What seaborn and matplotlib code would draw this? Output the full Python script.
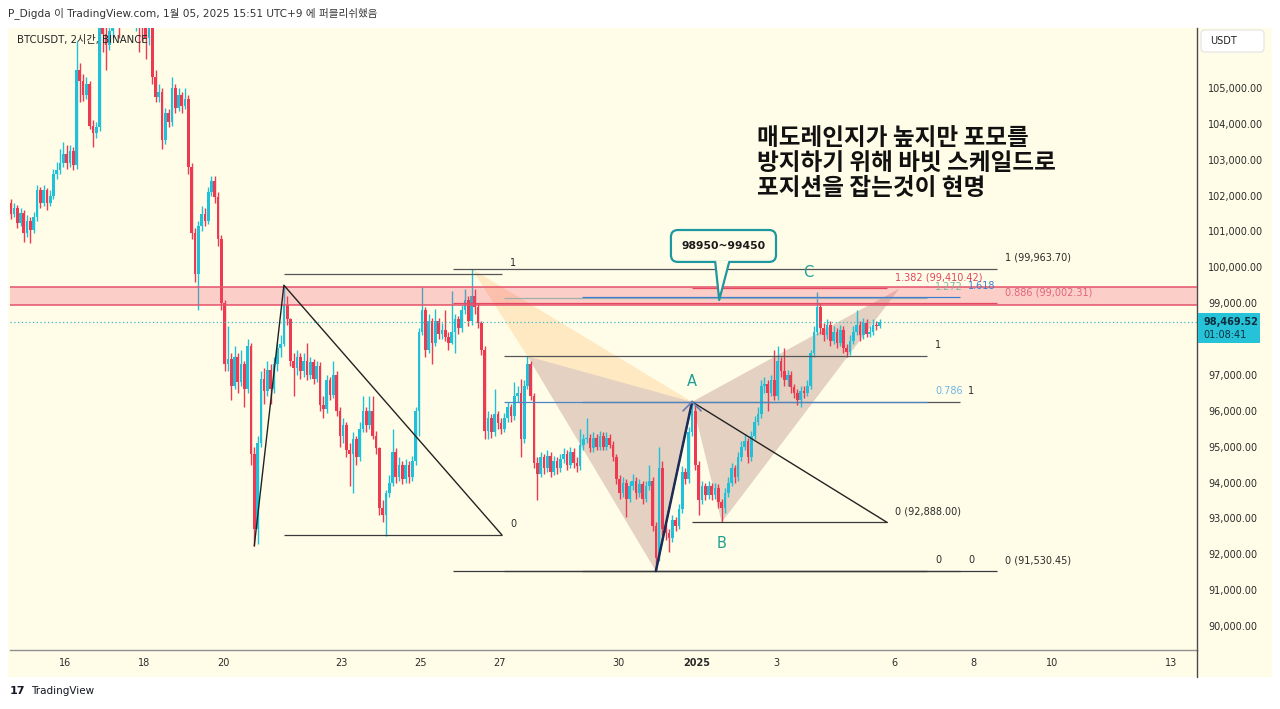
import numpy as np
import pandas as pd
import matplotlib
matplotlib.use("Agg")
import matplotlib.pyplot as plt
import matplotlib.patches as mpatches
import matplotlib.transforms as mtrans
from matplotlib.lines import Line2D
import seaborn as sns

sns.set_style("white")
plt.rcParams["font.family"] = ["DejaVu Sans", "Noto Sans CJK KR"]

# ---------------- data (BTCUSDT 2h candles) ----------------
candle_start = "2024-12-14 15:00"
first_open = 101800
closes = [
    101500, 101650, 101240, 101520, 100960, 101300, 101050, 101400, 102150, 101800, 102150, 101800,
    102000, 102600, 102700, 102900, 103150, 102900, 103250, 102850, 105500, 105200, 104800, 105100,
    103950, 103750, 103900, 106900, 106500, 106200, 106600, 107000, 107300, 106900, 107300, 107600,
    107800, 107400, 107900, 107200, 106800, 106400, 106700, 105300, 104750, 104900, 103550, 104300,
    104050, 105000, 104450, 104800, 104500, 104700, 102800, 100950, 99800, 101150, 101500, 101300,
    102100, 102400, 101950, 100800, 99000, 97300, 97450, 96700, 97500, 96800, 97300, 96600,
    97800, 94800, 92700, 95100, 96900, 96550, 97150, 96600, 97300, 97750, 97850, 98950,
    98550, 97400, 97200, 97500, 97100, 97400, 97000, 97350, 96900, 97250, 96150, 96050,
    96850, 96450, 97000, 96000, 95300, 95600, 94900, 94800, 95200, 94700, 95500, 96000,
    95600, 96000, 95300, 94950, 93300, 93100, 93700, 94000, 94850, 94150, 94500, 94100,
    94500, 94150, 94600, 96000, 98200, 98800, 97700, 98500, 97900, 98500, 98150, 98250,
    98050, 97900, 98200, 98550, 98300, 98800, 99100, 98500, 99200, 98900, 98450, 97700,
    95450, 95800, 95400, 95900, 95650, 95500, 95800, 96100, 95850, 96400, 96500, 95200,
    96700, 97300, 96400, 94550, 94250, 94700, 94400, 94750, 94300, 94600, 94400, 94650,
    94800, 94500, 94850, 94550, 94450, 95050, 95200, 95250, 94950, 95250, 95000, 95300,
    95000, 95250, 95050, 94700, 94100, 93700, 94000, 93550, 93900, 94050, 93700, 93950,
    93550, 93900, 94050, 92800, 91900, 94400, 92700, 92600, 92450, 92950, 92800, 93250,
    94300, 94100, 95400, 96000, 94500, 93500, 93900, 93650, 93900, 93650, 93850, 93450,
    93300, 93700, 94000, 94400, 94150, 94700, 95000, 95150, 94700, 95300, 95700, 95900,
    96700, 96750, 96500, 96850, 96400, 97400, 97100, 96850, 97000, 96650, 96500, 96300,
    96550, 96500, 96700, 97600, 98200, 98900, 98300, 98100, 98400, 97950, 98200, 97900,
    98250, 97750, 97650, 97950, 98200, 98400, 98100, 98450, 98150, 98200, 98400, 98350,
    98470,
]
highs = [
    101900, 101800, 101750, 101650, 101600, 101450, 101400, 101550, 102300, 102250, 102300, 102200,
    102150, 102750, 102950, 103300, 103500, 103400, 103400, 103350, 106300, 105700, 105400, 105300,
    105200, 104100, 104050, 107100, 107200, 106800, 106900, 107300, 107600, 107500, 107500, 107900,
    108100, 108000, 108350, 108000, 107400, 107000, 107000, 106900, 105500, 105100, 105000, 104450,
    104400, 105300, 105100, 105000, 104900, 105000, 104800, 102900, 101100, 101300, 101700, 101650,
    102250, 102550, 102550, 102100, 100900, 99100, 98350, 97600, 97800, 97600, 97700, 97400,
    98000, 97900, 95000, 95300, 97100, 97200, 97400, 97300, 97500, 97900, 98100, 99500,
    99200, 98600, 97600, 97700, 97600, 97600, 97900, 97500, 97450, 97400, 97350, 96400,
    97000, 96950, 97400, 97100, 96100, 95800, 95700, 95100, 95400, 95300, 95700, 96400,
    96100, 96400, 96400, 95450, 95000, 93500, 93800, 94200, 95500, 94950, 94700, 94600,
    94650, 94600, 94750, 96100, 98300, 99450, 98900, 98700, 98600, 98850, 98600, 98450,
    98800, 98200, 99350, 98700, 98650, 98950, 99400, 99200, 99964, 99400, 99000, 98500,
    97800, 96000, 95900, 96600, 96000, 95800, 95950, 96250, 96200, 96800, 96700, 96900,
    96850, 97520, 97400, 96500, 94700, 94850, 94800, 94900, 94850, 94750, 94700, 94800,
    94950, 94900, 95000, 94950, 94700, 95500, 95350, 95800, 95350, 95400, 95350, 95450,
    95400, 95400, 95350, 95150, 94800, 94200, 94150, 94100, 94050, 94250, 94150, 94100,
    94050, 94050, 94500, 94150, 92900, 95000, 94600, 92850, 92700, 93100, 93050, 93400,
    94450, 94400, 95550, 96250, 96150, 94600, 94050, 94000, 94050, 94000, 94000, 93950,
    93550, 93850, 94150, 94550, 94500, 94850, 95150, 95350, 95250, 95450, 95850, 96100,
    96850, 96950, 96850, 97000, 97700, 97800, 97500, 97750, 97150, 97100, 96750, 96600,
    96700, 96700, 96850, 97700, 98350, 99300, 99000, 98450, 98550, 98500, 98350, 98300,
    98400, 98350, 97850, 98100, 98350, 98800, 98500, 98600, 98550, 98350, 98550, 98500,
    98550,
]
lows = [
    101350, 101400, 101100, 101150, 100700, 100850, 100680, 100950, 101300, 101650, 101700, 101600,
    101700, 101900, 102450, 102600, 102800, 102750, 102800, 102700, 102750, 104600, 104650, 104700,
    103850, 103350, 103600, 103800, 106000, 105500, 106050, 106400, 106800, 106400, 106800, 107100,
    107400, 107200, 106600, 106000, 106300, 105800, 106200, 105100, 104600, 104600, 103300, 103450,
    103900, 103950, 104300, 104350, 104300, 104400, 102600, 100800, 99600, 98800, 101000, 101150,
    101200, 102000, 101800, 100600, 98800, 97100, 97100, 96300, 96600, 96500, 96700, 96100,
    96500, 94500, 92230, 92300, 95000, 96200, 96400, 96200, 96500, 97100, 97500, 97800,
    98400, 97250, 96400, 97000, 96900, 96950, 96850, 96900, 96750, 96800, 96000, 95800,
    95950, 96300, 96350, 95850, 95000, 95100, 94700, 93900, 93700, 94500, 94600, 95400,
    95400, 95500, 95200, 94800, 93100, 92900, 92520, 93600, 93900, 94000, 94050, 93950,
    94000, 94000, 94050, 94500, 95300, 98100, 97500, 97600, 97300, 97800, 98000, 98000,
    97950, 97700, 97850, 97600, 98150, 98200, 98700, 98350, 98400, 98700, 98300, 97550,
    95200, 95200, 95250, 95300, 95500, 95350, 95400, 95700, 95700, 95750, 96250, 94700,
    95100, 96600, 96300, 94400, 93500, 94150, 94250, 94300, 94150, 94200, 94250, 94300,
    94550, 94350, 94400, 94400, 94300, 94350, 94900, 95100, 94850, 94850, 94900, 94900,
    94900, 94900, 94950, 94600, 93950, 93550, 93600, 93050, 93450, 93800, 93550, 93600,
    93400, 93450, 93800, 92650, 91530, 91800, 92550, 92400, 92050, 92350, 92650, 92700,
    93150, 93950, 94000, 95300, 94350, 93100, 93400, 93500, 93550, 93500, 93550, 93300,
    92888, 93150, 93600, 93900, 94000, 94050, 94600, 94900, 94550, 94600, 95200, 95600,
    95800, 96500, 96000, 96400, 96300, 96300, 96950, 96700, 96700, 96500, 96350, 96150,
    96100, 96350, 96400, 96600, 97500, 98100, 98150, 97950, 98000, 97800, 97850, 97750,
    97800, 97600, 97500, 97550, 97850, 98100, 97950, 98000, 98050, 98050, 98100, 98250,
    98300,
]
current_price = 98469.52
countdown = "01:08:41"

price_ticks = [90000, 91000, 92000, 93000, 94000, 95000, 96000, 97000,
               99000, 100000, 101000, 102000, 103000, 104000, 105000]
time_ticks = ["2024-12-16", "2024-12-18", "2024-12-20", "2024-12-23", "2024-12-25",
              "2024-12-27", "2024-12-30", "2025-01-01", "2025-01-03", "2025-01-06",
              "2025-01-08", "2025-01-10", "2025-01-13"]
time_labels = ["16", "18", "20", "23", "25", "27", "30", "2025", "3", "6", "8", "10", "13"]

zone_low, zone_high = 98950, 99450
zone_text = "98950~99450"
callout_box = {"left": "2024-12-31 08:10", "right": "2025-01-03 00:00", "top": 101040, "bottom": 100150}
callout_tip = ("2025-01-01 13:30", 99090)

fib_long = {"start": "2024-12-25 20:00", "end": "2025-01-08 14:00", "p0": 91530.45, "p1": 99963.70,
            "levels": [0, 0.886, 1], "with_price": True}
fib_a = {"start": "2024-12-27 03:00", "end": "2025-01-06 20:00", "p0": 91530.45, "p1": 97520,
         "levels": [0, 1, 1.272, 0.786], "with_price": False}
fib_b = {"start": "2024-12-29 02:00", "end": "2025-01-07 16:00", "p0": 91530.45, "p1": 96250,
         "levels": [0, 1, 1.618], "with_price": False}
ext_1 = {"points": [("2024-12-20 19:00", 92230), ("2024-12-21 13:00", 99500), ("2024-12-27 01:30", 92537)],
         "levels": [0, 1], "with_price": False}
ext_2 = {"points": [("2024-12-30 23:00", 91530.45), ("2024-12-31 21:00", 96250), ("2025-01-05 19:30", 92888)],
         "levels": [0, 1.382], "with_price": True}

harm_light = [[("2024-12-26 07:00", 99963.70), ("2024-12-27 17:00", 97520), ("2024-12-31 21:00", 96250)]]
harm_dark = [[("2024-12-27 17:00", 97520), ("2024-12-30 23:00", 91530.45), ("2024-12-31 21:00", 96250)],
             [("2024-12-31 21:00", 96250), ("2025-01-01 15:00", 92888), ("2025-01-06 03:00", 99410)]]
point_labels = [("A", "2024-12-31 21:00", 96250, 20), ("B", "2025-01-01 15:00", 92888, -21),
                ("C", "2025-01-03 19:30", 99869, 0)]

header = "P_Digda 이 TradingView.com, 1월 05, 2025 15:51 UTC+9 에 퍼블리쉬했음"
symbol = "BTCUSDT, 2시간, BINANCE"
note_lines = ["매도레인지가 높지만 포모를", "방지하기 위해 바빗 스케일드로", "포지션을 잡는것이 현명"]

# ---------------- styling ----------------
BG = "#FFFDE8"
UP, DN = "#20C1D8", "#EE3A50"
TEAL = "#1FA093"
LINE_C = {0: "#3a3a3a", 1: "#555555", 0.786: "#4C84C8", 1.272: "#9DB0AA", 1.618: "#3F7FCC",
          0.886: "#E6485F", 1.382: "#E6485F"}
TEXT_C = {0: "#2a2a2a", 1: "#2a2a2a", 0.786: "#6DB6E6", 1.272: "#86B3A4", 1.618: "#3F7FCC",
          0.886: "#E0667A", 1.382: "#E0475C"}
LINE_Z = {0.786: 5.6, 1.618: 5.6}

W, H = 1280, 709
REF = pd.Timestamp("2024-12-16")


def tday(ts):
    return (pd.Timestamp(ts) - REF) / pd.Timedelta(days=1)


fig = plt.figure(figsize=(W / 100, H / 100), dpi=100)
fig.patch.set_facecolor("white")
PIX = mtrans.Affine2D().scale(1 / W, 1 / H) + fig.transFigure  # pixel coords, origin bottom-left
IDT = mtrans.IdentityTransform()

fig.add_artist(mpatches.Rectangle((8, H - 677), 1264, 649, transform=PIX, facecolor=BG,
                                  edgecolor="none", zorder=-10))
ax = fig.add_axes([10 / W, 1 - 650 / H, 1187 / W, 622 / H])
ax.set_facecolor(BG)
ax.set_xlim(-1.392, 28.658)
ax.set_ylim(89331, 106672)


def to_pix(tt, p):
    x, y = ax.transData.transform((tt, p))
    return x, y


# ---- candles ----
times = pd.date_range(candle_start, periods=len(closes), freq="2h")
t = np.array([(x - REF) / pd.Timedelta(days=1) for x in times])
c = np.array(closes, float)
o = np.r_[first_open, c[:-1]]
hi = np.maximum(np.array(highs, float), np.maximum(o, c))
lo = np.minimum(np.array(lows, float), np.minimum(o, c))
col = np.where(c >= o, UP, DN)
ax.vlines(t, lo, hi, colors=col, lw=1.0, zorder=2)
ax.bar(t, np.maximum(np.abs(c - o), 35), bottom=np.minimum(o, c), width=0.068, color=col,
       linewidth=0, zorder=3)

# ---- harmonic shading ----
for tri in harm_light:
    ax.fill([tday(a) for a, _ in tri], [b for _, b in tri], color="#FFA53C", alpha=0.22, lw=0, zorder=1)
for tri in harm_dark:
    ax.fill([tday(a) for a, _ in tri], [b for _, b in tri], color="#96504F", alpha=0.25, lw=0, zorder=1)

# ---- zone ----
ax.axhspan(zone_low, zone_high, facecolor="#F04A6E", alpha=0.26, lw=0, zorder=4)
ax.axhline(zone_low, color="#E4536B", lw=1.1, zorder=4.5)
ax.axhline(zone_high, color="#E4536B", lw=1.1, zorder=4.5)

# ---- current price line ----
ax.axhline(current_price, color="#3FB8C8", lw=0.9, ls=(0, (1, 2)), zorder=4)


def draw_levels(t0, t1, pairs, with_price):
    for lvl, price in pairs:
        ax.hlines(price, t0, t1, colors=LINE_C[lvl], lw=0.9, zorder=LINE_Z.get(lvl, 5))
        lab = f"{lvl:g} ({price:,.2f})" if with_price else f"{lvl:g}"
        ax.annotate(lab, (t1, price), xytext=(8, 11), textcoords="offset pixels", ha="left",
                    va="center", fontsize=7, color=TEXT_C[lvl], zorder=7, annotation_clip=False)


for fb in (fib_long, fib_a, fib_b):
    pairs = [(l, fb["p0"] + l * (fb["p1"] - fb["p0"])) for l in fb["levels"]]
    draw_levels(tday(fb["start"]), tday(fb["end"]), pairs, fb["with_price"])

for ex in (ext_1, ext_2):
    (ta, pa), (tb, pb), (tc, pc) = ex["points"]
    pairs = [(l, pc + l * (pb - pa)) for l in ex["levels"]]
    draw_levels(tday(tb), tday(tc), pairs, ex["with_price"])
    df = pd.DataFrame({"t": [tday(ta), tday(tb), tday(tc)], "p": [pa, pb, pc]})
    sns.lineplot(data=df, x="t", y="p", sort=False, estimator=None, color="#222222", lw=1.0,
                 ax=ax, zorder=6)

# thick first leg of second extension
(ta, pa), (tb, pb), _ = ext_2["points"]
sns.lineplot(x=[tday(ta), tday(tb)], y=[pa, pb], sort=False, estimator=None, color="#1C2B57",
             lw=1.8, ax=ax, zorder=6.5)
ax.set_xlabel("")
ax.set_ylabel("")

# caret at A
ax_, ay_ = to_pix(tday(ext_2["points"][1][0]), ext_2["points"][1][1])
for dx in (-9, 9):
    fig.add_artist(Line2D([ax_ + dx, ax_], [ay_ - 9, ay_], transform=IDT,
                          color="#6A80B4", lw=1.3, zorder=5))

# point labels
for s, ts, p, dy in point_labels:
    ax.annotate(s, (tday(ts), p), xytext=(0, dy), textcoords="offset pixels", ha="center",
                va="center", fontsize=10.5, color=TEAL, zorder=8)

# ---- callout ----
xl, yb = to_pix(tday(callout_box["left"]), callout_box["bottom"])
xr, yt = to_pix(tday(callout_box["right"]), callout_box["top"])
tx, ty = to_pix(tday(callout_tip[0]), callout_tip[1])
box = mpatches.FancyBboxPatch((xl, yb), xr - xl, yt - yb, boxstyle="round,pad=0,rounding_size=7",
                              transform=IDT, facecolor=BG, edgecolor="#1E97A0", lw=1.6, zorder=20)
fig.add_artist(box)
b1, b2 = tx - 4, tx + 10
fig.add_artist(mpatches.Polygon([(b1, yb + 1.5), (tx, ty), (b2, yb + 1.5)], closed=True, transform=IDT,
                                facecolor=BG, edgecolor="none", zorder=21))
fig.add_artist(Line2D([b1, tx, b2], [yb, ty, yb], transform=IDT, color="#1E97A0", lw=1.6, zorder=22))
fig.text((xl + xr) / 2, (yb + yt) / 2, zone_text, transform=IDT, ha="center", va="center",
         fontsize=7.8, weight="bold", color="#1a1a1a", zorder=23)

# ---- axes styling ----
for s in ("top", "left"):
    ax.spines[s].set_visible(False)
ax.spines["right"].set_color("#4a4a4a")
ax.spines["right"].set_linewidth(1.0)
ax.spines["bottom"].set_color("#8f8f8f")
ax.spines["bottom"].set_linewidth(1.0)
ax.yaxis.tick_right()
ax.set_yticks(price_ticks)
ax.set_yticklabels([f"{v:,.2f}" for v in price_ticks])
ax.tick_params(axis="y", length=0, pad=8, labelsize=7, labelcolor="#2b2b2b")
ax.set_xticks([tday(d) for d in time_ticks])
ax.set_xticklabels(time_labels)
ax.tick_params(axis="x", length=0, pad=6, labelsize=7, labelcolor="#2b2b2b")
for lab in ax.get_xticklabels():
    if lab.get_text() == "2025":
        lab.set_fontweight("bold")
ax.grid(False)

fig.add_artist(Line2D([1197, 1197], [H - 677, H - 650], transform=PIX, color="#4a4a4a", lw=1.0))

# current price tag
_, yc = to_pix(0, current_price)
fig.add_artist(mpatches.Rectangle((1198, yc - 21), 62, 30, transform=IDT, facecolor="#26C3D8",
                                  edgecolor="none", zorder=30))
fig.text(1203, yc, f"{current_price:,.2f}", transform=IDT, ha="left", va="center", fontsize=7,
         weight="bold", color="#0D2F3F", zorder=31)
fig.text(1203, yc - 13, countdown, transform=IDT, ha="left", va="center", fontsize=7,
         color="#0D2F3F", zorder=31)

# USDT tag
fig.add_artist(mpatches.FancyBboxPatch((1201, H - 52), 63, 22, boxstyle="round,pad=0,rounding_size=4",
                                       transform=PIX, facecolor="white", edgecolor="#E3E3E3", lw=0.8,
                                       zorder=30))
fig.text(1210, H - 41, "USDT", transform=PIX, ha="left", va="center", fontsize=7, color="#222222",
         zorder=31)

# ---- texts ----
cjk = ["Noto Sans CJK KR", "DejaVu Sans"]
fig.text(8, H - 13, header, transform=PIX, ha="left", va="center", fontsize=7.6, color="#333333",
         family=["DejaVu Sans", "Noto Sans CJK KR"])
fig.text(17, H - 40, symbol, transform=PIX, ha="left", va="center", fontsize=7.3, color="#222222",
         family=["DejaVu Sans", "Noto Sans CJK KR"], zorder=40)
for i, line in enumerate(note_lines):
    fig.text(757, H - (138 + 25 * i), line, transform=PIX, ha="left", va="center", fontsize=17,
             weight="bold", color="#111111", family=cjk, zorder=40)

fig.text(10, H - 691, "17", transform=PIX, ha="left", va="center", fontsize=8, weight="bold",
         color="#131722")
fig.text(31, H - 691, "TradingView", transform=PIX, ha="left", va="center", fontsize=7.5,
         color="#131722")

fig.savefig("out.png", dpi=100, facecolor="white")
